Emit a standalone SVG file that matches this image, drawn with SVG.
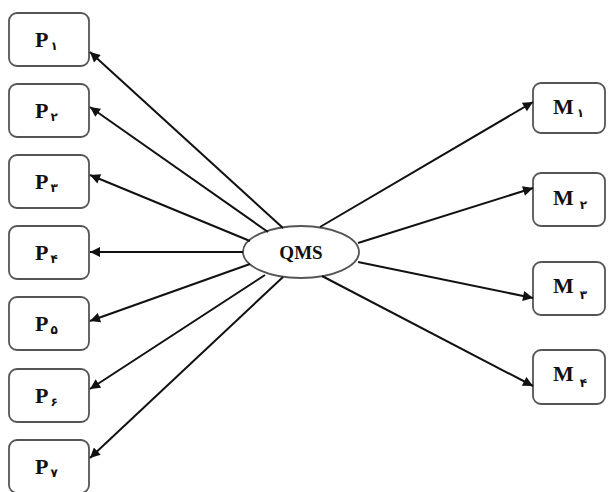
<svg xmlns="http://www.w3.org/2000/svg" width="608" height="492" viewBox="0 0 608 492">
<style>
.box{fill:#fff;stroke:#555;stroke-width:1.8}
.lbl{font-family:"Liberation Serif","Times New Roman",serif;font-weight:bold;font-size:22px;fill:#111}
.sub{font-family:"DejaVu Sans","Noto Sans",sans-serif;font-size:12px;font-weight:bold;fill:#111}
.con line{stroke:#111;stroke-width:2;marker-end:url(#ah)}
</style>
<defs>
<marker id="ah" viewBox="0 0 10 10" refX="10" refY="5" markerWidth="11" markerHeight="10" markerUnits="userSpaceOnUse" orient="auto">
<path d="M0,0 L10,5 L0,10 z" fill="#111"/>
</marker>
</defs>
<rect width="608" height="492" fill="#fff"/>
<g id="P1"><rect class="box" x="9" y="13" width="80" height="53" rx="8"/><text class="lbl" x="35" y="47">P<tspan class="sub" dx="2" dy="3">۱</tspan></text></g>
<g id="P2"><rect class="box" x="9" y="84" width="80" height="53" rx="8"/><text class="lbl" x="35" y="118">P<tspan class="sub" dx="2" dy="3">۲</tspan></text></g>
<g id="P3"><rect class="box" x="9" y="155" width="80" height="53" rx="8"/><text class="lbl" x="35" y="189">P<tspan class="sub" dx="2" dy="3">۳</tspan></text></g>
<g id="P4"><rect class="box" x="9" y="226" width="80" height="53" rx="8"/><text class="lbl" x="35" y="260">P<tspan class="sub" dx="2" dy="3">۴</tspan></text></g>
<g id="P5"><rect class="box" x="9" y="297" width="80" height="53" rx="8"/><text class="lbl" x="35" y="331">P<tspan class="sub" dx="2" dy="3">۵</tspan></text></g>
<g id="P6"><rect class="box" x="9" y="369" width="80" height="53" rx="8"/><text class="lbl" x="35" y="403">P<tspan class="sub" dx="2" dy="3">۶</tspan></text></g>
<g id="P7"><rect class="box" x="9" y="440" width="80" height="53" rx="8"/><text class="lbl" x="35" y="474">P<tspan class="sub" dx="2" dy="3">۷</tspan></text></g>
<g id="M1"><rect class="box" x="533" y="83" width="72" height="50" rx="8"/><text class="lbl" x="553" y="114">M<tspan class="sub" dx="3" dy="3">۱</tspan></text></g>
<g id="M2"><rect class="box" x="533" y="173" width="72" height="53" rx="8"/><text class="lbl" x="553" y="205">M<tspan class="sub" dx="6" dy="4">۲</tspan></text></g>
<g id="M3"><rect class="box" x="533" y="262" width="72" height="53" rx="8"/><text class="lbl" x="553" y="293">M<tspan class="sub" dx="6" dy="6">۳</tspan></text></g>
<g id="M4"><rect class="box" x="533" y="350" width="72" height="54" rx="8"/><text class="lbl" x="553" y="381">M<tspan class="sub" dx="6" dy="6">۴</tspan></text></g>
<g id="QMS"><ellipse class="box" cx="301" cy="252" rx="58" ry="26"/><text class="lbl" x="301" y="259" text-anchor="middle" style="font-size:19px">QMS</text></g>
<g class="con" id="connectors">
<line x1="283" y1="228" x2="90" y2="52"/>
<line x1="268" y1="232" x2="90" y2="107"/>
<line x1="250" y1="241" x2="90" y2="175"/>
<line x1="243" y1="252" x2="90" y2="252"/>
<line x1="250" y1="264" x2="90" y2="321"/>
<line x1="265" y1="275" x2="90" y2="389"/>
<line x1="283" y1="277" x2="90" y2="458"/>
<line x1="320" y1="227" x2="533" y2="102"/>
<line x1="358" y1="243" x2="533" y2="188"/>
<line x1="358" y1="262" x2="533" y2="298"/>
<line x1="322" y1="276" x2="533" y2="386"/>
</g>
</svg>
